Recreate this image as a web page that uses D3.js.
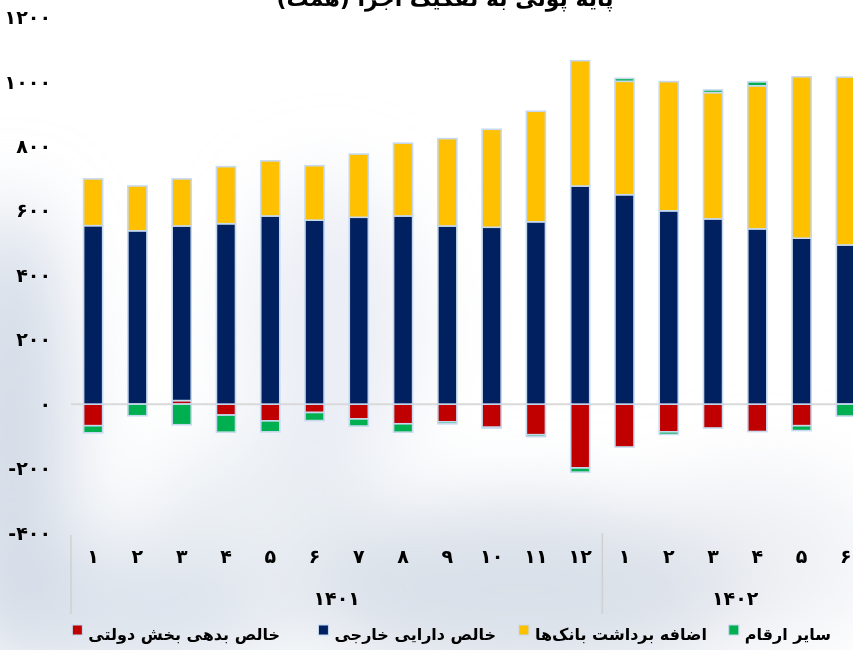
<!DOCTYPE html>
<html>
<head>
<meta charset="utf-8">
<script src="https://cdn.jsdelivr.net/npm/d3@7"></script>
<style>
  html, body { margin: 0; padding: 0; background: #fff; }
  svg { display: block; font-family: "DejaVu Sans", sans-serif; font-weight: bold; }
</style>
</head>
<body>
<div id="chart"></div>
<script>
// month labels and year groups (category axis has two levels)
var months = ["۱","۲","۳","۴","۵","۶","۷","۸","۹","۱۰","۱۱","۱۲","۱","۲","۳","۴","۵","۶"];
var years  = ["۱۴۰۱","۱۴۰۱","۱۴۰۱","۱۴۰۱","۱۴۰۱","۱۴۰۱","۱۴۰۱","۱۴۰۱","۱۴۰۱","۱۴۰۱","۱۴۰۱","۱۴۰۱",
              "۱۴۰۲","۱۴۰۲","۱۴۰۲","۱۴۰۲","۱۴۰۲","۱۴۰۲"];

// series, values in همت
var govDebt   = [-67, 0, 11, -34, -52, -26, -46, -61, -55, -72, -95, -198, -133, -86, -74, -85, -67, 0];
var foreign   = [554, 538, 542, 560, 584, 571, 580, 584, 553, 549, 566, 677, 650, 600, 575, 544, 515, 494];
var overdraft = [145, 139, 146, 177, 171, 169, 196, 226, 271, 304, 343, 389, 352, 401, 392, 444, 501, 521];
var others    = [-22, -36, -64, -53, -34, -25, -22, -26, -6, -2, -6, -13, 9, -8, 8, 12, -15, -37];

var yTicks = [-400, -200, 0, 200, 400, 600, 800, 1000, 1200];

var seriesNames = ["خالص بدهی بخش دولتی", "خالص دارایی خارجی", "اضافه برداشت بانک‌ها", "سایر ارقام"];
var colors = ["#c00000", "#002060", "#ffc000", "#00b050"];
var title = "پایه پولی به تفکیک اجزا (همت)";

var width = 853, height = 650;

function fa(n) {
    // persian digits, minus sign kept on the left like the original
    var s = String(Math.abs(n)).replace(/[0-9]/g, d => "۰۱۲۳۴۵۶۷۸۹"[d]);
    return n < 0 ? "-" + s : s;
}

var keys = ["gov", "foreign", "overdraft", "others"];
var table = months.map((m, i) => ({
    i: i,
    gov: govDebt[i],
    foreign: foreign[i],
    overdraft: overdraft[i],
    others: others[i]
}));

var svg = d3.select("#chart").append("svg")
    .attr("width", width)
    .attr("height", height);

/* soft cloudy background */
var defs = svg.append("defs");
defs.append("filter").attr("id", "blur")
    .attr("x", "-50%").attr("y", "-50%").attr("width", "200%").attr("height", "200%")
    .append("feGaussianBlur").attr("stdDeviation", 40);

var haze = svg.append("g").attr("filter", "url(#blur)");
[
    [10, 430, 60, 230, "#c3cddd", 0.75],
    [120, 610, 170, 70, "#cfd7e4", 0.7],
    [330, 330, 90, 150, "#dde3ee", 0.6],
    [520, 590, 230, 90, "#cdd5e2", 0.75],
    [760, 560, 120, 90, "#dfe4ec", 0.5],
    [260, 500, 120, 60, "#d8dfea", 0.5]
].forEach(e => {
    haze.append("ellipse")
        .attr("cx", e[0]).attr("cy", e[1])
        .attr("rx", e[2]).attr("ry", e[3])
        .attr("fill", e[4]).attr("opacity", e[5]);
});

/* scales */
var x = d3.scaleBand()
    .domain(d3.range(months.length))
    .range([71, 868])
    .paddingInner(0.57)
    .paddingOuter(0.285);

var y = d3.scaleLinear()
    .domain([-400, 1200])
    .range([533, 17.5]);

var stacked = d3.stack()
    .keys(keys)
    .offset(d3.stackOffsetDiverging)(table);

/* zero line */
svg.append("line")
    .attr("x1", 71).attr("x2", width)
    .attr("y1", y(0)).attr("y2", y(0))
    .attr("stroke", "#d9d9d9")
    .attr("stroke-width", 2);

/* bars */
svg.append("g").selectAll("g")
    .data(stacked)
    .join("g")
    .attr("fill", (d, k) => colors[k])
    .selectAll("rect")
    .data(d => d.filter(p => p[1] !== p[0]))
    .join("rect")
    .attr("x", d => x(d.data.i))
    .attr("y", d => y(Math.max(d[0], d[1])))
    .attr("width", x.bandwidth())
    .attr("height", d => Math.abs(y(d[0]) - y(d[1])))
    .attr("stroke", "#c6d9ef")
    .attr("stroke-width", 1.6);

/* y axis, labels only */
var yAxis = d3.axisLeft(y)
    .tickValues(yTicks)
    .tickSize(0)
    .tickPadding(0)
    .tickFormat(fa);

svg.append("g")
    .attr("transform", "translate(51,0)")
    .call(yAxis)
    .call(g => g.select(".domain").remove())
    .selectAll("text")
    .attr("font-size", 19)
    .attr("font-family", "DejaVu Sans, sans-serif")
    .attr("font-weight", "bold")
    .attr("fill", "#000");

/* category axis: months */
var xAxis = d3.axisBottom(x)
    .tickSize(0)
    .tickPadding(0)
    .tickFormat(i => months[i]);

svg.append("g")
    .attr("transform", "translate(0,549)")
    .call(xAxis)
    .call(g => g.select(".domain").remove())
    .selectAll("text")
    .attr("font-size", 19)
    .attr("font-family", "DejaVu Sans, sans-serif")
    .attr("font-weight", "bold")
    .attr("fill", "#000");

/* category axis: year groups */
var step = x.step();
var groups = [];
years.forEach((yr, i) => {
    if (!groups.length || groups[groups.length - 1].name !== yr) {
        groups.push({ name: yr, first: i, last: i });
    } else {
        groups[groups.length - 1].last = i;
    }
});

var gx = svg.append("g");
groups.forEach((g, gi) => {
    var x0 = x(g.first) - step * x.paddingOuter();
    var x1 = x(g.last) + x.bandwidth() + step * x.paddingOuter();
    gx.append("line")
        .attr("x1", x0).attr("x2", x0)
        .attr("y1", gi === 0 ? 535 : 533).attr("y2", 614)
        .attr("stroke", "#d0d0d0")
        .attr("stroke-width", 1.5);
    if (gi === groups.length - 1) {
        gx.append("line")
            .attr("x1", x1).attr("x2", x1)
            .attr("y1", 533).attr("y2", 614)
            .attr("stroke", "#d0d0d0")
            .attr("stroke-width", 1.5);
    }
    gx.append("text")
        .attr("x", (x0 + x1) / 2)
        .attr("y", 605)
        .attr("text-anchor", "middle")
        .attr("font-size", 19)
        .text(g.name);
});

/* title, partly cut off at the top like the source */
svg.append("text")
    .attr("x", 445)
    .attr("y", 6)
    .attr("text-anchor", "middle")
    .attr("font-size", 22)
    .text(title);

/* legend, right to left; right edge of each entry's text */
var legendRight = [280, 496, 707, 831];
var legend = svg.append("g");
[3, 2, 1, 0].forEach(k => {
    var t = legend.append("text")
        .attr("x", legendRight[k])
        .attr("y", 640)
        .attr("text-anchor", "end")
        .attr("font-size", 16)
        .text(seriesNames[k]);
    var w = t.node().getComputedTextLength();
    legend.append("rect")
        .attr("x", legendRight[k] - w - 16)
        .attr("y", 625)
        .attr("width", 10)
        .attr("height", 10)
        .attr("fill", colors[k])
        .attr("stroke", "#c6d9ef")
        .attr("stroke-width", 1);
});
</script>
</body>
</html>
